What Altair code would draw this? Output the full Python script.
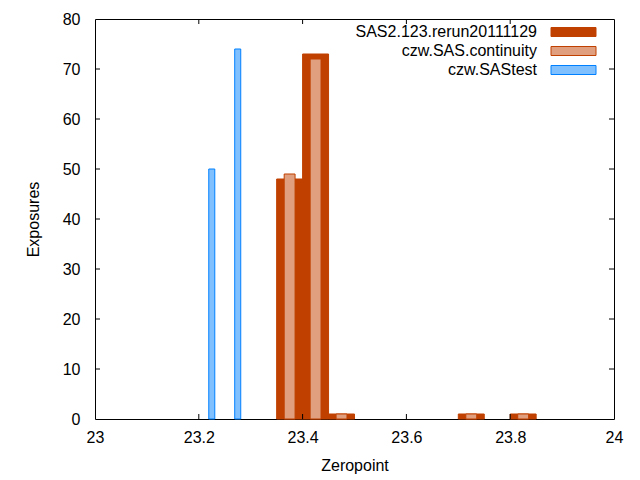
import altair as alt
import pandas as pd

# ---- data ----
series_names = ["SAS2.123.rerun20111129", "czw.SAS.continuity", "czw.SAStest"]
sas_centers = [23.375, 23.425, 23.475, 23.725, 23.825]
sas_counts = [48, 73, 1, 1, 1]
cont_centers = [23.375, 23.425, 23.475, 23.725, 23.825]
cont_counts = [49, 72, 1, 1, 1]
test_centers = [23.225, 23.275]
test_counts = [50, 74]
x_ticks = [23, 23.2, 23.4, 23.6, 23.8, 24]
y_ticks = [0, 10, 20, 30, 40, 50, 60, 70, 80]

# ---- style ----
W, H = 519, 400
FONT = "Liberation Sans"
FS = 16
ORANGE = "#c04000"
ORANGE_CHK = "#e0a080"
BLUE = "#0080ff"
BLUE_CHK = "#80c0ff"
TICK = 5

xs = alt.Scale(domain=[23, 24], nice=False, zero=False)
ys = alt.Scale(domain=[0, 80], nice=False)

xaxis = alt.Axis(values=x_ticks, format="~g", title="Zeropoint", grid=False, domain=False,
                 ticks=False, labelPadding=10, labelFontSize=FS, labelColor="black",
                 labelFont=FONT, titleFont=FONT, titleFontSize=FS, titleFontWeight="normal",
                 titleColor="black", titleBaseline="alphabetic", titleY=51.5, labelFlush=False)
yaxis = alt.Axis(values=y_ticks, title="Exposures", grid=False, domain=False, ticks=False,
                 labelPadding=15, labelFontSize=FS, labelColor="black", labelFont=FONT,
                 titleFont=FONT, titleFontSize=FS, titleFontWeight="normal", titleColor="black",
                 titleBaseline="alphabetic", titleX=-57, labelFlush=False)


def bars(centers, counts, half, fill, stroke):
    df = pd.DataFrame({"c": centers, "n": counts})
    return (
        alt.Chart(df)
        .transform_calculate(x0=f"datum.c - {half}", x1=f"datum.c + {half}")
        .mark_rect(fill=fill, stroke=stroke, strokeWidth=1)
        .encode(
            x=alt.X("x0:Q", scale=xs, axis=xaxis),
            x2="x1:Q",
            y=alt.Y("n:Q", scale=ys, axis=yaxis),
            y2=alt.datum(0),
        )
    )


layers = [
    bars(sas_centers, sas_counts, 0.025, ORANGE, ORANGE),
    bars(cont_centers, cont_counts, 0.0105, ORANGE_CHK, ORANGE),
    bars(test_centers, test_counts, 0.0058, BLUE_CHK, BLUE),
]

# inward ticks on all four sides
xt = pd.DataFrame({"t": x_ticks[1:-1]})
yt = pd.DataFrame({"t": y_ticks[1:-1]})
layers.append(alt.Chart(xt).mark_rule(color="black", strokeWidth=1).encode(
    x=alt.X("t:Q", scale=xs, axis=xaxis), y=alt.value(H), y2=alt.value(H - TICK)))
layers.append(alt.Chart(xt).mark_rule(color="black", strokeWidth=1).encode(
    x=alt.X("t:Q", scale=xs, axis=xaxis), y=alt.value(0), y2=alt.value(TICK)))
layers.append(alt.Chart(yt).mark_rule(color="black", strokeWidth=1).encode(
    y=alt.Y("t:Q", scale=ys, axis=yaxis), x=alt.value(0), x2=alt.value(TICK)))
layers.append(alt.Chart(yt).mark_rule(color="black", strokeWidth=1).encode(
    y=alt.Y("t:Q", scale=ys, axis=yaxis), x=alt.value(W - TICK), x2=alt.value(W)))

# legend (gnuplot style: text left of swatch)
fills = [ORANGE, ORANGE_CHK, BLUE_CHK]
strokes = [ORANGE, ORANGE, BLUE]
for i, name in enumerate(series_names):
    cy = 13 + 19 * i
    d = pd.DataFrame({"name": [name]})
    layers.append(alt.Chart(d).mark_text(align="right", baseline="middle", font=FONT,
                                         fontSize=FS, color="black").encode(
        text="name:N", x=alt.value(442), y=alt.value(cy)))
    layers.append(alt.Chart(d).mark_rect(fill=fills[i], stroke=strokes[i], strokeWidth=1).encode(
        x=alt.value(456), x2=alt.value(501), y=alt.value(cy - 4.5), y2=alt.value(cy + 4.5)))

chart = (
    alt.layer(*layers)
    .properties(width=W, height=H, autosize=alt.AutoSizeParams(type="none"),
                padding={"left": 87, "top": 11, "right": 18, "bottom": 55},
                background="white")
    .configure_view(stroke="black", strokeWidth=1)
)

chart.save("out.html", embed_options={"renderer": "svg", "actions": False})
